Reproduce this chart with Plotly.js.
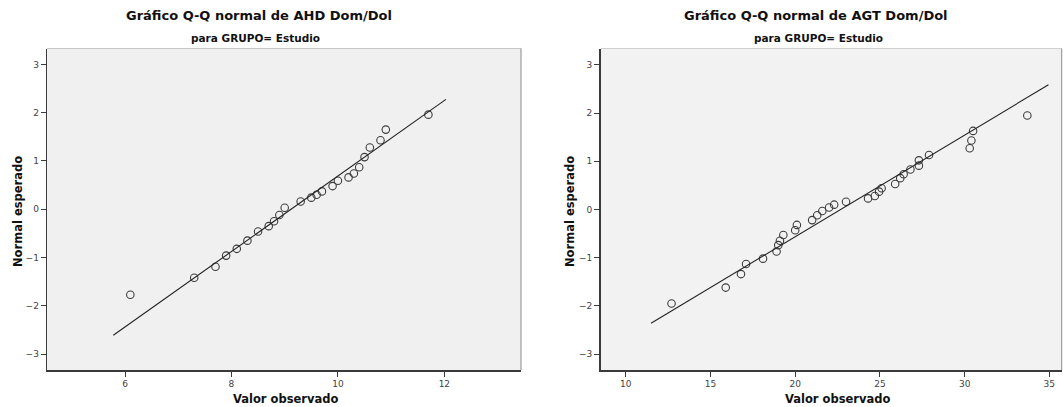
<!DOCTYPE html>
<html>
<head>
<meta charset="utf-8">
<script src="https://cdn.plot.ly/plotly-3.0.1.min.js"></script>
<style>html,body{margin:0;padding:0;background:#fff;}#chart{width:1063px;height:407px;}</style>
</head>
<body>
<div id="chart"></div>
<script>
// Left chart: AHD Dom/Dol
const ahdObserved = [6.1, 7.3, 7.7, 7.9, 8.1, 8.3, 8.5, 8.7, 8.8, 8.9, 9.0, 9.3, 9.5, 9.6, 9.7, 9.9, 10.0, 10.2, 10.3, 10.4, 10.5, 10.6, 10.8, 10.9, 11.7];
const ahdExpected = [-1.77, -1.42, -1.19, -0.96, -0.82, -0.65, -0.46, -0.35, -0.25, -0.12, 0.03, 0.16, 0.24, 0.30, 0.37, 0.48, 0.59, 0.66, 0.74, 0.87, 1.08, 1.28, 1.43, 1.65, 1.96];
const ahdLineX = [5.78, 12.03];
const ahdMean = 9.12, ahdSd = 1.279;

// Right chart: AGT Dom/Dol
const agtObserved = [12.7, 15.9, 16.8, 17.1, 18.1, 18.9, 19.0, 19.1, 19.3, 20.0, 20.1, 21.0, 21.3, 21.6, 22.0, 22.3, 23.0, 24.3, 24.7, 24.95, 25.1, 25.9, 26.2, 26.4, 26.8, 27.3, 27.3, 27.9, 30.3, 30.4, 30.5, 33.7];
const agtExpected = [-1.95, -1.62, -1.34, -1.13, -1.02, -0.87, -0.74, -0.65, -0.53, -0.43, -0.32, -0.22, -0.12, -0.03, 0.04, 0.10, 0.16, 0.23, 0.28, 0.37, 0.44, 0.53, 0.65, 0.73, 0.83, 0.91, 1.02, 1.13, 1.27, 1.43, 1.63, 1.95];
const agtLineX = [11.49, 34.95];
const agtMean = 22.68, agtSd = 4.74;

const leftXTicks = [6, 8, 10, 12];
const rightXTicks = [10, 15, 20, 25, 30, 35];
const yTicks = [-3, -2, -1, 0, 1, 2, 3];

const titles = ["Gráfico Q-Q normal de AHD Dom/Dol", "Gráfico Q-Q normal de AGT Dom/Dol"];
const subtitle = "para GRUPO= Estudio";
const xTitle = "Valor observado";
const yTitle = "Normal esperado";

const W = 1063, H = 407;
const px = v => v / W;
const py = v => (H - v) / H;

const marker = {symbol: 'circle-open', size: 7.5, color: '#3c3c3c', line: {width: 1.1, color: '#3c3c3c'}};
const lineStyle = {color: '#222', width: 1.1};

const data = [
  {x: ahdObserved, y: ahdExpected, type: 'scatter', mode: 'markers', marker: marker, xaxis: 'x', yaxis: 'y', hoverinfo: 'x+y'},
  {x: ahdLineX, y: ahdLineX.map(v => (v - ahdMean) / ahdSd), type: 'scatter', mode: 'lines', line: lineStyle, xaxis: 'x', yaxis: 'y'},
  {x: agtObserved, y: agtExpected, type: 'scatter', mode: 'markers', marker: marker, xaxis: 'x2', yaxis: 'y2', hoverinfo: 'x+y'},
  {x: agtLineX, y: agtLineX.map(v => (v - agtMean) / agtSd), type: 'scatter', mode: 'lines', line: lineStyle, xaxis: 'x2', yaxis: 'y2'}
];

const tickFont = {family: 'DejaVu Sans, sans-serif', size: 9, color: '#444'};
const axisCommon = {
  showgrid: false, zeroline: false, showline: true, linecolor: '#3a3a3a', linewidth: 1.6,
  ticks: 'outside', ticklen: 5, tickwidth: 1, tickcolor: '#3a3a3a', tickfont: tickFont,
  fixedrange: true
};
const yDomain = [py(370), py(48.5)];

const layout = {
  width: W, height: H,
  margin: {l: 0, r: 0, t: 0, b: 0},
  paper_bgcolor: '#ffffff',
  showlegend: false,
  xaxis: Object.assign({}, axisCommon, {domain: [px(47.3), px(521)], range: [4.54, 13.44], tickvals: leftXTicks, anchor: 'y'}),
  yaxis: Object.assign({}, axisCommon, {domain: yDomain, range: [-3.33, 3.33], tickvals: yTicks, anchor: 'x'}),
  xaxis2: Object.assign({}, axisCommon, {domain: [px(600.7), px(1061.7)], range: [8.52, 35.73], tickvals: rightXTicks, anchor: 'y2'}),
  yaxis2: Object.assign({}, axisCommon, {domain: yDomain, range: [-3.33, 3.34], tickvals: yTicks, anchor: 'x2'}),
  shapes: [
    {type: 'rect', xref: 'x domain', yref: 'y domain', x0: 0, x1: 1, y0: 0, y1: 1, fillcolor: '#f0f0f0', line: {width: 0}, layer: 'below'},
    {type: 'rect', xref: 'x2 domain', yref: 'y2 domain', x0: 0, x1: 1, y0: 0, y1: 1, fillcolor: '#f2f2f2', line: {width: 0}, layer: 'below'},
    {type: 'line', xref: 'x domain', yref: 'y domain', x0: 0, x1: 1, y0: 1, y1: 1, line: {color: '#c4c4c4', width: 1}},
    {type: 'line', xref: 'x domain', yref: 'y domain', x0: 1, x1: 1, y0: 0, y1: 1, line: {color: '#8a8a8a', width: 1}},
    {type: 'line', xref: 'x2 domain', yref: 'y2 domain', x0: 0, x1: 1, y0: 1, y1: 1, line: {color: '#d0d0d0', width: 1}},
    {type: 'line', xref: 'x2 domain', yref: 'y2 domain', x0: 1, x1: 1, y0: 0, y1: 1, line: {color: '#8a8a8a', width: 1}}
  ],
  annotations: [
    {text: titles[0], xref: 'paper', yref: 'paper', x: px(259), y: py(15), xanchor: 'center', yanchor: 'middle', showarrow: false, font: {family: 'DejaVu Sans, sans-serif', size: 13, color: '#111', weight: 'bold'}},
    {text: subtitle, xref: 'paper', yref: 'paper', x: px(255), y: py(38), xanchor: 'center', yanchor: 'middle', showarrow: false, font: {family: 'DejaVu Sans, sans-serif', size: 10.5, color: '#111', weight: 'bold'}},
    {text: titles[1], xref: 'paper', yref: 'paper', x: px(816), y: py(15), xanchor: 'center', yanchor: 'middle', showarrow: false, font: {family: 'DejaVu Sans, sans-serif', size: 13, color: '#111', weight: 'bold'}},
    {text: subtitle, xref: 'paper', yref: 'paper', x: px(818), y: py(38), xanchor: 'center', yanchor: 'middle', showarrow: false, font: {family: 'DejaVu Sans, sans-serif', size: 10.5, color: '#111', weight: 'bold'}},
    {text: xTitle, xref: 'paper', yref: 'paper', x: px(285), y: py(399), xanchor: 'center', yanchor: 'middle', showarrow: false, font: {family: 'DejaVu Sans, sans-serif', size: 11.5, color: '#111', weight: 'bold'}},
    {text: xTitle, xref: 'paper', yref: 'paper', x: px(837), y: py(399), xanchor: 'center', yanchor: 'middle', showarrow: false, font: {family: 'DejaVu Sans, sans-serif', size: 11.5, color: '#111', weight: 'bold'}},
    {text: yTitle, xref: 'paper', yref: 'paper', x: px(18), y: py(212), xanchor: 'center', yanchor: 'middle', textangle: -90, showarrow: false, font: {family: 'DejaVu Sans, sans-serif', size: 11.5, color: '#111', weight: 'bold'}},
    {text: yTitle, xref: 'paper', yref: 'paper', x: px(570), y: py(212), xanchor: 'center', yanchor: 'middle', textangle: -90, showarrow: false, font: {family: 'DejaVu Sans, sans-serif', size: 11.5, color: '#111', weight: 'bold'}}
  ]
};

Plotly.newPlot('chart', data, layout, {displayModeBar: false, staticPlot: true});
</script>
</body>
</html>
